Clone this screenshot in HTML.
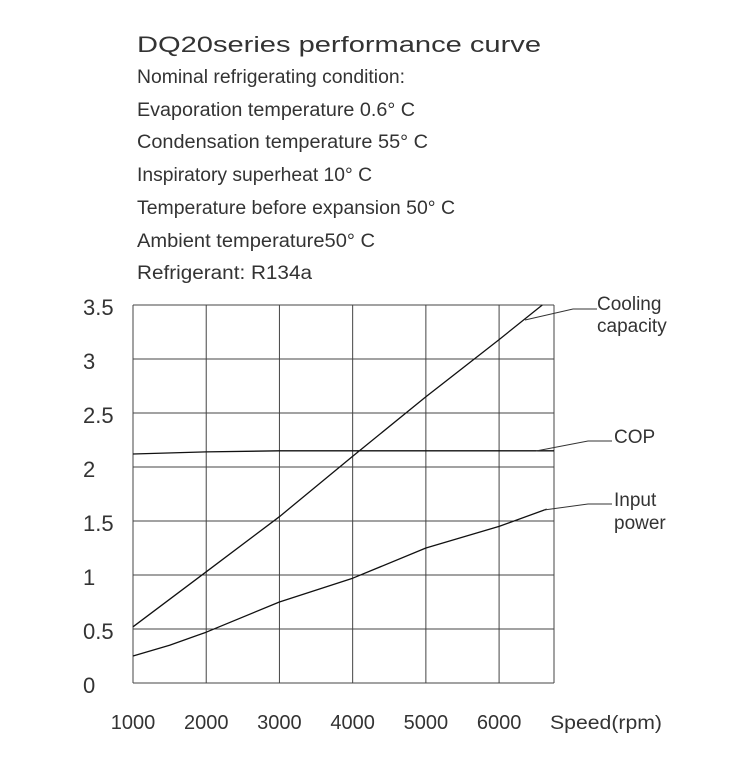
<!DOCTYPE html>
<html><head><meta charset="utf-8"><style>
html,body{margin:0;padding:0;background:#fff;}
svg{display:block;}
text{font-family:"Liberation Sans",sans-serif;fill:#333;}
</style></head><body>
<svg id="chart" width="750" height="760" viewBox="0 0 750 760" xmlns="http://www.w3.org/2000/svg">
<g>
<text x="137" y="52" font-size="22" textLength="404" lengthAdjust="spacingAndGlyphs">DQ20series performance curve</text>
<text x="137" y="83" font-size="19" textLength="268" lengthAdjust="spacingAndGlyphs">Nominal refrigerating condition:</text>
<text x="137" y="116" font-size="19" textLength="278" lengthAdjust="spacingAndGlyphs">Evaporation temperature 0.6° C</text>
<text x="137" y="148" font-size="19" textLength="291" lengthAdjust="spacingAndGlyphs">Condensation  temperature 55° C</text>
<text x="137" y="181" font-size="19" textLength="235" lengthAdjust="spacingAndGlyphs">Inspiratory superheat 10° C</text>
<text x="137" y="214" font-size="19" textLength="318" lengthAdjust="spacingAndGlyphs">Temperature before expansion 50° C</text>
<text x="137" y="247" font-size="19" textLength="238" lengthAdjust="spacingAndGlyphs">Ambient  temperature50° C</text>
<text x="137" y="279" font-size="19" textLength="175" lengthAdjust="spacingAndGlyphs">Refrigerant: R134a</text>
</g>
<g id="grid"></g>
<g id="axes"></g>
<g id="series"></g>
<g stroke="#333" stroke-width="1" fill="none">
<polyline points="525,320 573,309 597,309"/>
<polyline points="536,451 588,441 612,441"/>
<polyline points="544,510 588,504 612,504"/>
</g>
<text x="597" y="310" font-size="19">Cooling</text>
<text x="597" y="332" font-size="19">capacity</text>
<text x="614" y="443" font-size="19">COP</text>
<text x="614" y="506" font-size="19">Input</text>
<text x="614" y="529" font-size="19">power</text>
<text x="550" y="729" font-size="19" textLength="112" lengthAdjust="spacingAndGlyphs">Speed(rpm)</text>
</svg>
<script>
const xTicks = [1000, 2000, 3000, 4000, 5000, 6000];
const yTicks = [0, 0.5, 1, 1.5, 2, 2.5, 3, 3.5];
const yTickLabels = ["0", "0.5", "1", "1.5", "2", "2.5", "3", "3.5"];
const coolingSpeed = [1000, 2000, 3000, 4000, 5000, 6000, 6590];
const coolingValues = [0.52, 1.03, 1.54, 2.1, 2.65, 3.18, 3.5];
const copSpeed = [1000, 2000, 3000, 4000, 5000, 6000, 6750];
const copValues = [2.12, 2.14, 2.15, 2.15, 2.15, 2.15, 2.15];
const inputSpeed = [1000, 1500, 2000, 3000, 4000, 5000, 6000, 6650];
const inputValues = [0.25, 0.35, 0.47, 0.75, 0.97, 1.25, 1.45, 1.61];
const xMin = 1000, xMax = 6750, yMin = 0, yMax = 3.5;
const L = 133, R = 554, T = 305, B = 683;
function sx(v){ return L + (v - xMin) / (xMax - xMin) * (R - L); }
function sy(v){ return B - (v - yMin) / (yMax - yMin) * (B - T); }
const NS = "http://www.w3.org/2000/svg";
function mk(tag, parent, attrs){ const e = document.createElementNS(NS, tag); for (const k in attrs) e.setAttribute(k, attrs[k]); parent.appendChild(e); return e; }
const grid = document.getElementById('grid');
const axes = document.getElementById('axes');
const series = document.getElementById('series');
yTicks.forEach((t, i) => {
  const ln = mk('line', grid, {x1: L, x2: R, y1: sy(t), y2: sy(t), stroke: '#444', 'stroke-width': 1});
  
  
  const tx = mk('text', axes, {x: 83, y: sy(t) + 10, 'font-size': 22});
  tx.textContent = yTickLabels[i];
  
  
});
xTicks.forEach(t => {
  const ln = mk('line', grid, {x1: sx(t), x2: sx(t), y1: T, y2: B, stroke: '#444', 'stroke-width': 1});
  
  
  const tx = mk('text', axes, {x: sx(t), y: 729, 'font-size': 20, 'text-anchor': 'middle'});
  tx.textContent = String(t);
  
  
});
const rb = mk('line', grid, {x1: R, x2: R, y1: T, y2: B, stroke: '#444', 'stroke-width': 1});


function drawLine(xs, ys, name){
  const pts = xs.map((x, i) => sx(x).toFixed(1) + ',' + sy(ys[i]).toFixed(1)).join(' ');
  const p = mk('polyline', series, {points: pts, fill: 'none', stroke: '#111', 'stroke-width': 1.3, 'stroke-linejoin': 'round'});
  
  
}
drawLine(coolingSpeed, coolingValues, 'cooling-capacity-line');
drawLine(copSpeed, copValues, 'cop-line');
drawLine(inputSpeed, inputValues, 'input-power-line');
</script>
</body></html>
